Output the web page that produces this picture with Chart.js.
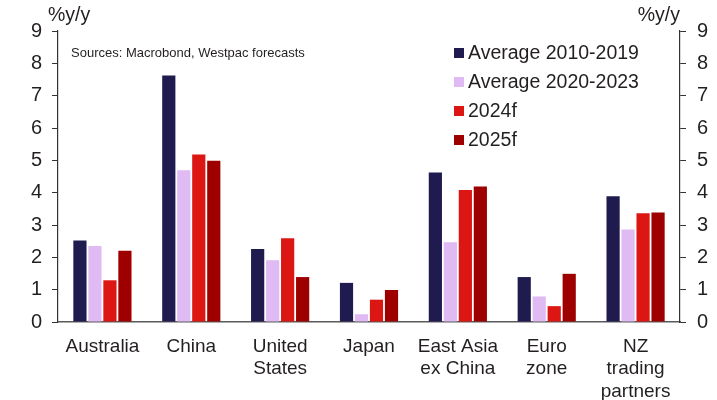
<!DOCTYPE html>
<html>
<head>
<meta charset="utf-8">
<script src="https://cdn.jsdelivr.net/npm/chart.js@4.4.1/dist/chart.umd.min.js"></script>
<style>
  html, body { margin: 0; padding: 0; background: #fff; }
  #wrap { width: 717px; height: 400px; }
</style>
</head>
<body>
<div id="wrap"><canvas id="growthChart" width="717" height="400"></canvas></div>
<script>
// regiones y series (%y/y)
var regiones = [['Australia'], ['China'], ['United', 'States'], ['Japan'],
    ['East Asia', 'ex China'], ['Euro', 'zone'], ['NZ', 'trading', 'partners']];
var series = ['Average 2010-2019', 'Average 2020-2023', '2024f', '2025f'];
var prom2010 = [2.52, 7.62, 2.26, 1.21, 4.62, 1.39, 3.89];
var prom2020 = [2.35, 4.69, 1.91, 0.24, 2.47, 0.79, 2.86];
var pron2024 = [1.29, 5.18, 2.59, 0.69, 4.08, 0.49, 3.36];
var pron2025 = [2.2, 4.99, 1.39, 0.99, 4.19, 1.49, 3.39];
var ticksY = [0, 1, 2, 3, 4, 5, 6, 7, 8, 9];
var colores = ['#1f1b4e', '#e0baf2', '#dc1713', '#9e0000'];

var fuente = '"Liberation Sans", Arial, sans-serif';
var tinta = '#231f20';

// leyenda, unidades y fuente dibujadas a mano
var textos = {
    id: 'textos',
    afterDraw: function (chart) {
        var ctx = chart.ctx;
        var area = chart.chartArea;
        ctx.save();
        ctx.fillStyle = tinta;
        ctx.textBaseline = 'middle';
        ctx.font = '19.5px ' + fuente;
        ctx.textAlign = 'left';
        ctx.fillText('%y/y', 48, 16);
        ctx.textAlign = 'right';
        ctx.fillText('%y/y', area.right, 16);

        ctx.textAlign = 'left';
        ctx.font = '13px ' + fuente;
        ctx.fillText('Sources: Macrobond, Westpac forecasts', 71, 53);

        ctx.font = '19.5px ' + fuente;
        for (var i = 0; i < series.length; i++) {
            var y = 53 + i * 29;
            ctx.fillStyle = colores[i];
            ctx.fillRect(454, y - 5, 10, 10);
            ctx.fillStyle = tinta;
            ctx.fillText(series[i], 468, y + 1);
        }
        ctx.restore();
    }
};

var valores = [prom2010, prom2020, pron2024, pron2025];

function ejeY(posicion, ancho, relleno) {
    return {
        position: posicion,
        min: 0,
        max: 9,
        afterBuildTicks: function (scale) {
            scale.ticks = ticksY.map(function (v) { return { value: v }; });
        },
        grid: { drawOnChartArea: false, drawTicks: true, tickLength: 6, color: '#333' },
        border: { color: '#333', width: 1.2 },
        ticks: { color: tinta, font: { family: fuente, size: 20 }, padding: relleno },
        afterFit: function (scale) { scale.width = ancho; }
    };
}

var ctx = document.getElementById('growthChart').getContext('2d');
var chart = new Chart(ctx, {
    type: 'bar',
    data: {
        labels: regiones,
        datasets: series.map(function (nombre, i) {
            return {
                label: nombre,
                data: valores[i],
                backgroundColor: colores[i],
                borderWidth: 0,
                categoryPercentage: 0.675,
                barPercentage: 0.88
            };
        })
    },
    options: {
        responsive: false,
        animation: false,
        layout: { padding: { top: 31, left: 0, right: 0, bottom: 0 } },
        plugins: {
            legend: { display: false },
            tooltip: { enabled: false }
        },
        scales: {
            x: {
                grid: { display: false },
                border: { color: '#5a5a5a', width: 1.5 },
                ticks: {
                    color: tinta,
                    font: { family: fuente, size: 19 },
                    padding: 5,
                    maxRotation: 0,
                    autoSkip: false
                },
                afterFit: function (scale) { scale.height = 78; }
            },
            y: ejeY('left', 58, 10),
            y2: ejeY('right', 37, 11)
        }
    },
    plugins: [textos]
});
</script>
</body>
</html>
